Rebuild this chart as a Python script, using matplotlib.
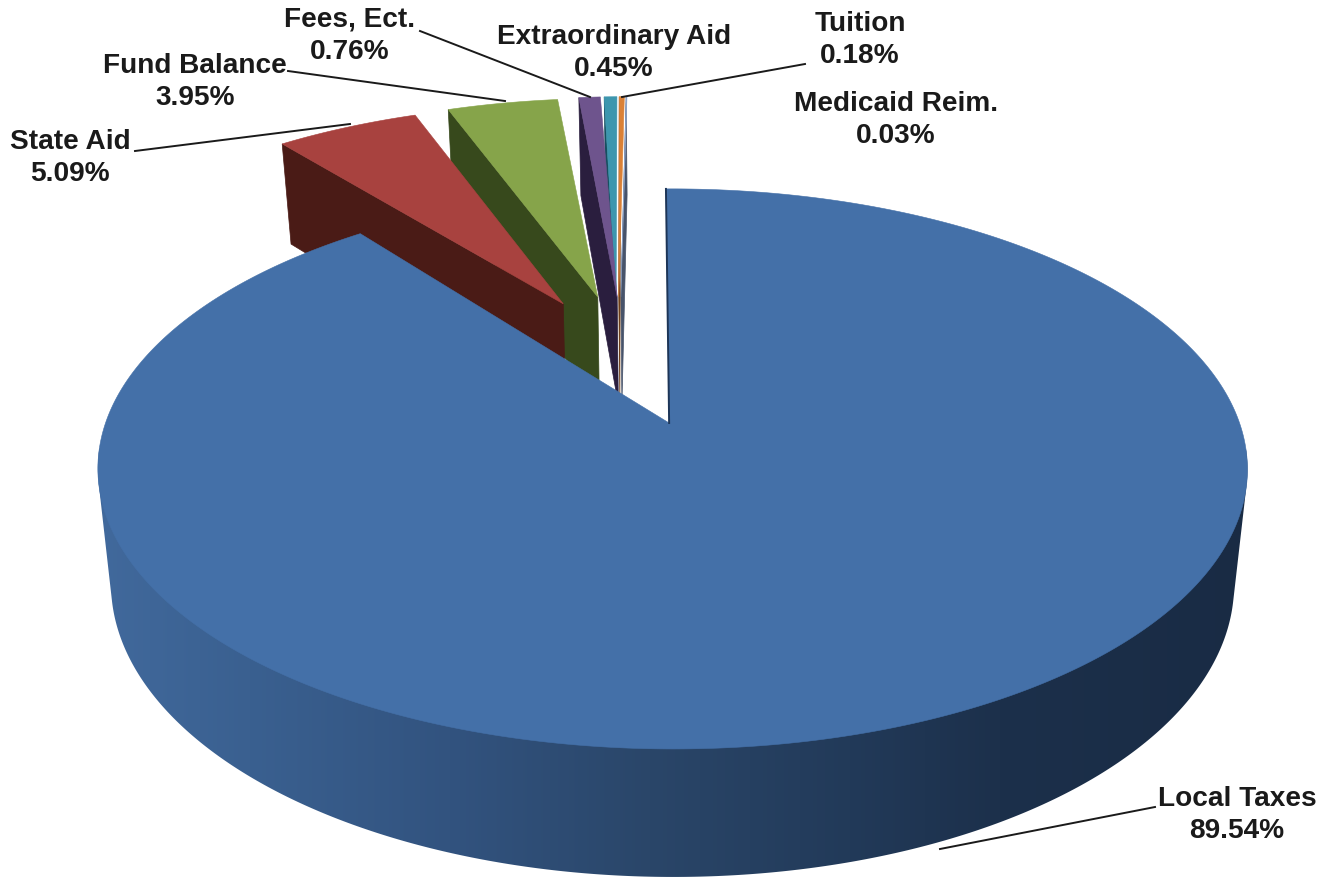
import numpy as np
import matplotlib
matplotlib.use("Agg")
import matplotlib.pyplot as plt
from matplotlib.patches import Polygon
from matplotlib.colors import to_rgb

categories = ["Local Taxes", "State Aid", "Fund Balance", "Fees, Ect.",
              "Extraordinary Aid", "Tuition", "Medicaid Reim."]
shares = [89.54, 5.09, 3.95, 0.76, 0.45, 0.18, 0.03]
share_labels = ["89.54%", "5.09%", "3.95%", "0.76%", "0.45%", "0.18%", "0.03%"]

top_colors = ["#4470A8", "#A8423F", "#86A44A", "#6E548D", "#3D96AE", "#DA8137", "#8EA5CB"]
wall_colors = ["#1D3557", "#4A1B16", "#37491C", "#2A1E3E", "#174F60", "#6E3F18", "#47536A"]
# explosion of each slice in disk coordinates (u, v), separate for apex and rim
apex_off = [(0.002, 0.0), (-0.199, -0.471), (-0.134, -0.50), (-0.097, -0.50),
            (-0.099, -0.50), (-0.094, -0.50), (-0.09, -0.50)]
rim_off = [(0.008, 0.0), (-0.199, -0.471), (-0.134, -0.50), (-0.097, -0.50),
           (-0.099, -0.50), (-0.094, -0.50), (-0.09, -0.50)]
rim_radius = [1.0, 0.98, 0.98, 0.99, 0.99, 0.99, 0.99]
turn_deg = [-0.7, -1.5, -1.2, -0.6, 0.0, 0.0, 0.0]
label_pos = [(1237, 815), (70, 158), (195, 82), (350, 36), (614, 53), (860, 40), (896, 120)]
leaders = [((1155, 808), (940, 850)), ((135, 152), (350, 125)), ((288, 72), (505, 102)),
           ((420, 32), (590, 98)), None, ((805, 65), (622, 98)), None]

# projection of the pie: perspective disk to figure pixels
CX, CY, A, B, P = 668.0, 424.0, 567.0, 272.5, 0.164
SX, SY, DROP = 0.977, 1.046, 113.0


def top(u, v):
    w = 1 - P * np.asarray(v)
    return CX + A * np.asarray(u) / w, CY + B * np.asarray(v) / w


def bottom(u, v):
    x, y = top(u, v)
    return CX + SX * (x - CX), CY + SY * (y - CY) + DROP


def hull(points):
    pts = sorted(map(tuple, points))

    def half(seq):
        out = []
        for p in seq:
            while len(out) > 1 and ((out[-1][0] - out[-2][0]) * (p[1] - out[-2][1])
                                    - (out[-1][1] - out[-2][1]) * (p[0] - out[-2][0])) <= 0:
                out.pop()
            out.append(p)
        return out[:-1]

    return half(pts) + half(pts[::-1])


wall_xs = [100, 250, 450, 650, 850, 1000, 1250]
wall_stops = [to_rgb(c) for c in ["#41699C", "#3A6090", "#32537F", "#2A4669",
                                  "#223A59", "#1C304B", "#192B44"]]

fig = plt.figure(figsize=(13.26, 8.79), dpi=100)
ax = fig.add_axes([0, 0, 1, 1])
ax.axis("off")

edges = np.cumsum([0] + shares) / 100 * 2 * np.pi
slices = []
for i in range(len(shares)):
    turn = np.radians(turn_deg[i])
    th = np.linspace(edges[i], edges[i + 1], max(3, int((edges[i + 1] - edges[i]) * 120))) + turn
    ru, rv = rim_off[i]
    slices.append((ru + rim_radius[i] * np.sin(th), rv - rim_radius[i] * np.cos(th), th))

# small exploded slices: back to front, the big slice last
for i in [6, 5, 4, 3, 2, 1]:
    u, v, _ = slices[i]
    u0, v0 = apex_off[i]
    xt, yt = top(u, v)
    xa, ya = top(u0, v0)
    xb, yb = bottom(u, v)
    xab, yab = bottom(u0, v0)
    ax.add_patch(Polygon([(xt[0], yt[0]), (xa, ya), (xab, yab), (xb[0], yb[0])],
                         closed=True, fc=wall_colors[i], ec=wall_colors[i], lw=0.5, zorder=2 + (6 - i)))
    ax.add_patch(Polygon(np.r_[[(xa, ya)], np.c_[xt, yt]], closed=True,
                         fc=top_colors[i], ec=top_colors[i], lw=0.4, zorder=2 + (6 - i) + 0.5))

# big slice: shaded side wall (gradient clipped to the silhouette), then the top face
u, v, th = slices[0]
u0, v0 = apex_off[0]
xt, yt = top(u, v)
xb, yb = bottom(u, v)
front = (th > np.radians(95)) & (th < np.radians(265))
outline = hull(np.r_[np.c_[xt[front], yt[front]], np.c_[xb[front], yb[front]]])
xgrid = np.arange(0, 1326)
gradient = np.stack([np.interp(xgrid, wall_xs, [s[k] for s in wall_stops]) for k in range(3)], axis=-1)[None, :, :]
image = ax.imshow(gradient, extent=(0, 1326, 879, 0), aspect="auto", zorder=10, interpolation="bilinear")
clip = Polygon(outline, closed=True, transform=ax.transData, fc="none", ec="none")
ax.add_patch(clip)
image.set_clip_path(clip)

xa, ya = top(u0, v0)
ax.add_patch(Polygon(np.r_[[(xa, ya)], np.c_[xt, yt]], closed=True,
                     fc=top_colors[0], ec=top_colors[0], lw=0.4, zorder=11))
ax.plot([xa, xt[0]], [ya, yt[0]], color=wall_colors[0], lw=1.4, zorder=12)

# labels and leader lines
for name, pct, pos, leader in zip(categories, share_labels, label_pos, leaders):
    ax.text(pos[0], pos[1], f"{name}\n{pct}", ha="center", va="center", fontsize=20.2,
            fontweight="bold", family="Liberation Sans", color="#1A1A1A", linespacing=1.33, zorder=20)
    if leader:
        ax.plot([leader[0][0], leader[1][0]], [leader[0][1], leader[1][1]],
                color="#1A1A1A", lw=1.4, zorder=15)

ax.set_xlim(0, 1326)
ax.set_ylim(879, 0)
fig.savefig("out.png", dpi=100, facecolor="white")
